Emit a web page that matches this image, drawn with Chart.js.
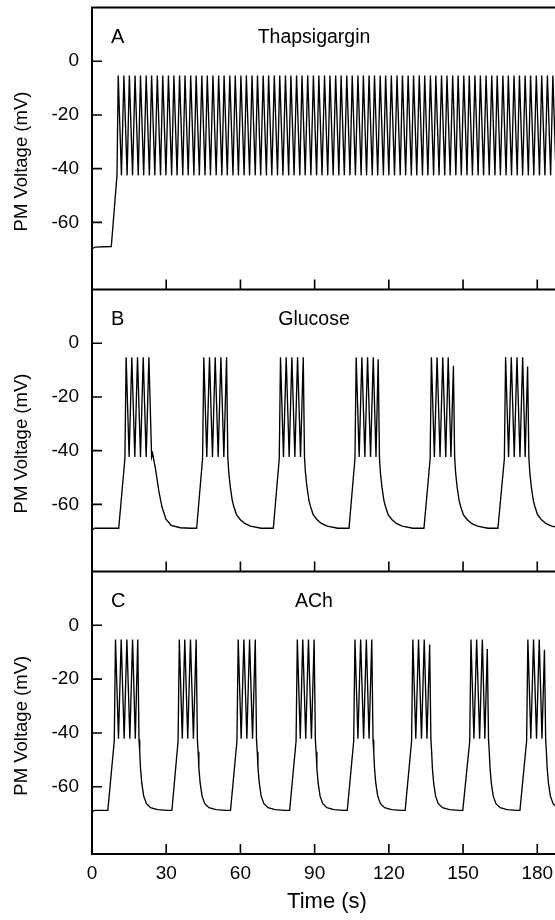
<!DOCTYPE html>
<html><head><meta charset="utf-8">
<script src="https://cdn.jsdelivr.net/npm/chart.js@4/dist/chart.umd.min.js"></script>
<style>
html,body{margin:0;padding:0;background:#fff;overflow:hidden;width:555px;height:920px;}
#wrap{position:relative;width:555px;height:920px;overflow:hidden;background:#fff;}
canvas{position:absolute;left:0;}
</style></head><body><div id="wrap">
<canvas id="cA" width="575" height="292" style="top:0px"></canvas>
<canvas id="cB" width="575" height="292" style="top:282px"></canvas>
<canvas id="cC" width="575" height="356" style="top:564px"></canvas>
</div>
<script>
// ---------- axes / labels ----------
const timeTicks = [0, 30, 60, 90, 120, 150, 180];
const voltTicks = [0, -20, -40, -60];
const panelLetters = ['A', 'B', 'C'];
const panelTitles = ['Thapsigargin', 'Glucose', 'ACh'];
const yAxisTitle = 'PM Voltage (mV)';
const xAxisTitle = 'Time (s)';

// ---------- Panel A: Thapsigargin (continuous spiking) ----------
const restA = [[0, -69.8], [1.2, -69.2], [7.8, -69.0], [10.1, -42.5]];
const peakTimesA = [10.6, 12.9, 15.1, 17.4, 19.6, 21.9, 24.1, 26.4, 28.6, 30.9, 33.1, 35.4, 37.6, 39.9, 42.1, 44.4, 46.6, 48.9, 51.2, 53.4, 55.7, 57.9, 60.2, 62.4, 64.7, 66.9, 69.2, 71.4, 73.7, 75.9, 78.2, 80.4, 82.7, 84.9, 87.2, 89.5, 91.7, 94.0, 96.2, 98.5, 100.7, 103.0, 105.2, 107.5, 109.7, 112.0, 114.2, 116.5, 118.7, 121.0, 123.3, 125.5, 127.8, 130.0, 132.3, 134.5, 136.8, 139.0, 141.3, 143.5, 145.8, 148.0, 150.3, 152.5, 154.8, 157.0, 159.3, 161.6, 163.8, 166.1, 168.3, 170.6, 172.8, 175.1, 177.3, 179.6, 181.8, 184.1, 186.3, 188.6];
const troughTimesA = [11.9, 14.2, 16.4, 18.7, 20.9, 23.2, 25.4, 27.7, 29.9, 32.2, 34.4, 36.7, 38.9, 41.2, 43.4, 45.7, 47.9, 50.2, 52.5, 54.7, 57.0, 59.2, 61.5, 63.7, 66.0, 68.2, 70.5, 72.7, 75.0, 77.2, 79.5, 81.7, 84.0, 86.2, 88.5, 90.8, 93.0, 95.3, 97.5, 99.8, 102.0, 104.3, 106.5, 108.8, 111.0, 113.3, 115.5, 117.8, 120.0, 122.3, 124.6, 126.8, 129.1, 131.3, 133.6, 135.8, 138.1, 140.3, 142.6, 144.8, 147.1, 149.3, 151.6, 153.8, 156.1, 158.3, 160.6, 162.9, 165.1, 167.4, 169.6, 171.9, 174.1, 176.4, 178.6, 180.9, 183.1, 185.4, 187.6, 189.9];
const peakVoltA = -5.3;
const troughVoltA = -42.5;

// ---------- Panel B: Glucose (bursting) ----------
const restB = [[0, -69.6], [1.0, -68.9]];
const baseVoltB = -68.9;
const burstStartB = [10.8, 42.3, 73.3, 103.9, 134.2, 164.1];
const burstPeaksB = [
  [13.8, 16.1, 18.4, 20.7, 23.0],
  [45.2, 47.5, 49.8, 52.1, 54.4],
  [76.2, 78.5, 80.8, 83.1, 85.4],
  [106.8, 109.1, 111.4, 113.7, 115.7],
  [137.2, 139.5, 141.8, 144.0, 146.1],
  [167.2, 169.5, 171.8, 174.1, 176.1]
];
const burstPeakVoltB = [
  [-5.2, -5.2, -5.2, -5.2, -5.2],
  [-5.2, -5.2, -5.2, -5.2, -5.2],
  [-5.2, -5.2, -5.2, -5.2, -5.2],
  [-5.2, -5.2, -5.2, -5.2, -6.0],
  [-5.2, -5.2, -5.2, -5.2, -8.4],
  [-5.2, -5.2, -5.2, -5.2, -8.7]
];
const burstTroughsB = [
  [15.0, 17.3, 19.6, 21.9],
  [46.4, 48.7, 51.0, 53.3],
  [77.4, 79.7, 82.0, 84.3],
  [108.0, 110.3, 112.6, 114.8],
  [138.4, 140.7, 143.0, 145.1],
  [168.4, 170.7, 173.0, 175.1]
];
const troughVoltB = -42.4;
const tailShoulderB = [[1.1, -42.4], [1.5, -41.0], [2.7, -47], [4.0, -55], [5.3, -61], [6.9, -65.5], [9.0, -67.8], [12.7, -68.7], [17, -68.9]];
const tailFastB = [[0.5, -42.5], [0.9, -48.3], [1.5, -53.5], [2.3, -58.5], [2.9, -60.7], [4.0, -63.8], [5.6, -65.7], [7.5, -67.2], [9.7, -68.1], [14, -68.9]];
const tailsB = [tailShoulderB, tailFastB, tailFastB, tailFastB, tailFastB, tailFastB];

// ---------- Panel C: ACh (faster bursting) ----------
const restC = [[0, -69.4], [1.0, -68.8]];
const baseVoltC = -68.8;
const burstStartC = [6.4, 32.3, 56.0, 79.9, 103.2, 126.6, 149.9, 173.0];
const burstPeaksC = [
  [9.5, 11.8, 14.1, 16.4, 18.5],
  [35.3, 37.5, 39.8, 42.1],
  [59.1, 61.4, 63.7, 66.0],
  [83.0, 85.2, 87.5, 89.8],
  [106.3, 108.6, 110.9, 113.1],
  [129.7, 132.0, 134.3, 136.5],
  [153.2, 155.5, 157.8, 159.8],
  [176.2, 178.5, 180.8, 182.9]
];
const burstPeakVoltC = [
  [-5.3, -5.3, -5.3, -5.3, -5.3],
  [-5.3, -5.3, -5.3, -5.3],
  [-5.3, -5.3, -5.3, -5.3],
  [-5.3, -5.3, -5.3, -5.3],
  [-5.3, -5.3, -5.3, -5.3],
  [-5.3, -5.3, -5.3, -7.1],
  [-5.3, -5.3, -5.3, -8.8],
  [-5.3, -5.3, -5.3, -9.1]
];
const burstTroughsC = [
  [10.7, 13.0, 15.3, 17.5],
  [36.5, 38.7, 41.0],
  [60.3, 62.6, 64.9],
  [84.2, 86.4, 88.7],
  [107.5, 109.8, 112.0],
  [130.9, 133.2, 135.4],
  [154.4, 156.7, 158.8],
  [177.4, 179.7, 181.9]
];
const troughVoltC = -42.2;
const tailC = [[0.5, -42.5], [0.8, -47], [1.1, -53], [1.6, -58.5], [2.4, -63.5], [3.5, -66.3], [5.2, -67.8], [8, -68.5], [12, -68.8]];
const tailsC = burstStartC.map(() => tailC);

// ramp shape before each burst's first spike
const rampTopVolt = -43;
const rampLead = 0.5;

// ---------- build traces from the arrays ----------
function spikingTrace(rest, peaks, troughs, pv, tv) {
  const pts = rest.map(([x, y]) => ({x, y}));
  peaks.forEach((p, i) => {
    pts.push({x: p, y: pv});
    if (i < troughs.length) pts.push({x: troughs[i], y: tv});
  });
  return pts;
}
function burstTrace(rest, base, starts, peaks, peakV, troughs, tv, tails) {
  const pts = rest.map(([x, y]) => ({x, y}));
  starts.forEach((s, i) => {
    pts.push({x: s, y: base});
    pts.push({x: peaks[i][0] - rampLead, y: rampTopVolt});
    peaks[i].forEach((p, j) => {
      pts.push({x: p, y: peakV[i][j]});
      if (j < troughs[i].length) pts.push({x: troughs[i][j], y: tv});
    });
    const last = peaks[i][peaks[i].length - 1];
    tails[i].forEach(([dt, v]) => pts.push({x: last + dt, y: v}));
  });
  const lastX = pts[pts.length - 1].x;
  if (lastX < 200) pts.push({x: 200, y: base});
  return pts;
}

const traceA = spikingTrace(restA, peakTimesA, troughTimesA, peakVoltA, troughVoltA);
const traceB = burstTrace(restB, baseVoltB, burstStartB, burstPeaksB, burstPeakVoltB, burstTroughsB, troughVoltB, tailsB);
const traceC = burstTrace(restC, baseVoltC, burstStartC, burstPeaksC, burstPeakVoltC, burstTroughsC, troughVoltC, tailsC);

const FONT = 'Liberation Sans, Arial, Helvetica, sans-serif';

const framePlugin = {
  id: 'frame',
  afterDraw(chart, args, opts) {
    const {ctx, chartArea: a, scales: {x, y}} = chart;
    ctx.save();
    ctx.strokeStyle = '#000';
    ctx.lineWidth = 2;
    ctx.beginPath();
    ctx.moveTo(a.left, a.top - 1); ctx.lineTo(a.left, a.bottom + 1);
    ctx.moveTo(a.left - 1, a.bottom); ctx.lineTo(a.right + 1, a.bottom);
    ctx.moveTo(a.right, a.top - 1); ctx.lineTo(a.right, a.bottom + 1);
    if (opts.drawTop) { ctx.moveTo(a.left - 1, a.top); ctx.lineTo(a.right + 1, a.top); }
    ctx.stroke();
    ctx.lineWidth = 1.6;
    ctx.beginPath();
    timeTicks.forEach(v => {
      const px = x.getPixelForValue(v);
      ctx.moveTo(px, a.bottom); ctx.lineTo(px, a.bottom - 10);
    });
    voltTicks.forEach(v => {
      const py = y.getPixelForValue(v);
      ctx.moveTo(a.left, py); ctx.lineTo(a.left + 10, py);
    });
    ctx.stroke();
    ctx.fillStyle = '#000';
    ctx.textBaseline = 'alphabetic';
    ctx.font = '20px ' + FONT;
    ctx.textAlign = 'left';
    ctx.fillText(opts.letter, 111, a.top + 35);
    ctx.font = '19.5px ' + FONT;
    ctx.textAlign = 'center';
    ctx.fillText(opts.title, 314, a.top + 35);
    // rotated y-axis title
    ctx.save();
    ctx.translate(22, (a.top + a.bottom) / 2 + 13);
    ctx.rotate(-Math.PI / 2);
    ctx.font = '18.5px ' + FONT;
    ctx.textAlign = 'center';
    ctx.textBaseline = 'middle';
    ctx.fillText(yAxisTitle, 0, 0);
    ctx.restore();
    ctx.restore();
  }
};

function makePanel(id, data, idx, bottom) {
  new Chart(document.getElementById(id), {
    type: 'line',
    data: {datasets: [{data, borderColor: '#000', borderWidth: 1.35, pointRadius: 0, tension: 0, fill: false}]},
    options: {
      responsive: false, animation: false, devicePixelRatio: 1,
      layout: {padding: {top: 7.5, bottom: 0, left: 0, right: 13}},
      plugins: {legend: {display: false}, tooltip: {enabled: false},
        frame: {drawTop: idx === 0, letter: panelLetters[idx], title: panelTitles[idx]}},
      scales: {
        x: {
          type: 'linear', min: 0, max: 190,
          afterBuildTicks: s => { s.ticks = timeTicks.map(v => ({value: v})); },
          afterFit: s => { s.height = bottom ? 66 : 2.5; s.paddingLeft = 0; s.paddingRight = 0; s.paddingTop = 0; s.paddingBottom = 0; },
          grid: {display: false, drawTicks: false}, border: {display: false},
          ticks: {display: bottom, color: '#000', font: {family: FONT, size: 19}, padding: 8, maxRotation: 0, autoSkip: false},
          title: {display: bottom, text: xAxisTitle, color: '#000', font: {family: FONT, size: 22}, padding: {top: 4, bottom: 5}}
        },
        y: {
          type: 'linear', min: -85, max: 20,
          afterBuildTicks: s => { s.ticks = voltTicks.map(v => ({value: v})); },
          afterFit: s => { s.width = 92; s.paddingTop = 0; s.paddingBottom = 0; s.paddingLeft = 0; s.paddingRight = 0; },
          grid: {display: false, drawTicks: false}, border: {display: false},
          ticks: {color: '#000', font: {family: FONT, size: 19}, padding: 13},
          title: {display: false}
        }
      }
    },
    plugins: [framePlugin]
  });
}

makePanel('cA', traceA, 0, false);
makePanel('cB', traceB, 1, false);
makePanel('cC', traceC, 2, true);
</script></body></html>
